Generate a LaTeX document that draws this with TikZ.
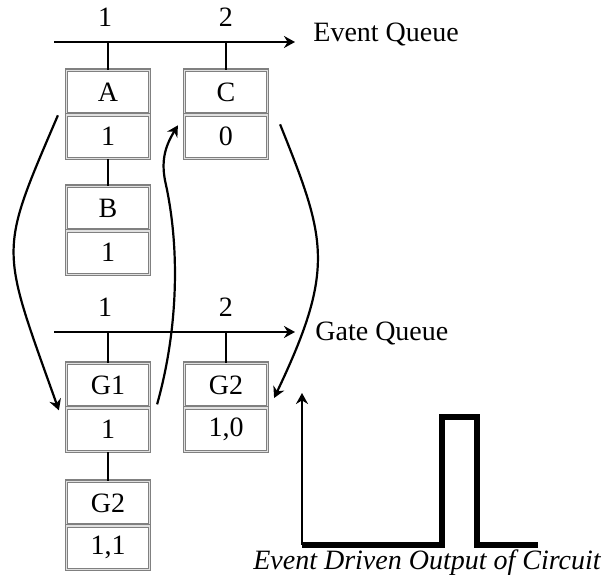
\documentclass[tikz,border=0pt]{standalone}
\usepackage{fontspec}
\setmainfont{Liberation Serif}
\usetikzlibrary{arrows.meta, positioning}

\begin{document}
\begin{tikzpicture}[x=0.5pt, y=-0.5pt, >={Stealth[length=5.5pt, width=6pt, inset=1.8pt]},
    font=\fontsize{14pt}{16pt}\selectfont,
    cell/.style={rectangle, draw=black!50, double=black!12, double distance=0.6pt,
        line width=0.6pt, minimum width=41.5pt, minimum height=21.75pt, inner sep=0pt},
    queue/.style={line width=1.3pt},
    hop/.style={->, line width=1.1pt},
    signal/.style={line width=2.7pt, line join=miter}]

    \useasboundingbox (0,0) rectangle (612,587);

    % Event queue
    \coordinate (eqs) at (54,42);
    \coordinate (eqe) at (295,42);
    \coordinate (e1) at (108,42);
    \coordinate (e2) at (226,42);
    \node (evq) [anchor=base west, inner sep=0pt] at (313,42) {Event Queue};
    \node (el1) [anchor=base] at (105,27) {1};
    \node (el2) [anchor=base] at (226,27) {2};

    \node (A) [cell] at (108,92) {A};
    \node (A1) [cell, below=0pt of A] {1};
    \node (B) [cell] at (108,208) {B};
    \node (B1) [cell, below=0pt of B] {1};
    \node (C) [cell] at (226,92) {C};
    \node (C1) [cell, below=0pt of C] {0};

    % Gate queue
    \coordinate (gqs) at (54,332);
    \coordinate (gqe) at (295,332);
    \coordinate (g1) at (108,332);
    \coordinate (g2) at (226,332);
    \node (gaq) [anchor=base west, inner sep=0pt] at (315,341) {Gate Queue};
    \node (gl1) [anchor=base] at (105,317) {1};
    \node (gl2) [anchor=base] at (226,317) {2};

    \node (G) [cell] at (108,385) {G1};
    \node (G1) [cell, below=0pt of G] {1};
    \node (H) [cell] at (108,503) {G2};
    \node (H1) [cell, below=0pt of H] {1,1};
    \node (K) [cell] at (226,385) {G2};
    \node (K1) [cell, below=0pt of K] {1,0};

    % Queues and links
    \draw[queue, ->] (eqs) -- (eqe);
    \draw[queue] (e1) -- (A.north);
    \draw[queue] (e2) -- (C.north);
    \draw[queue] (A1.south) -- (B.north);
    \draw[queue, ->] (gqs) -- (gqe);
    \draw[queue] (g1) -- (G.north);
    \draw[queue] (g2) -- (K.north);
    \draw[queue] (G1.south) -- (H.north);

    % Hops between the queues
    \draw[hop] ([shift={(-8,1)}]A1.north west) .. controls (-2,255) and (0,245) .. ([shift={(-7,3)}]G1.north west);
    \draw[hop] ([shift={(7,-3)}]G1.north east) .. controls (178,330) and (180,250) .. (166,185)
        .. controls (160,160) and (166,145) .. ([shift={(-6,11)}]C1.north west);
    \draw[hop] ([shift={(12,10)}]C1.north east) .. controls (326,239) and (336,268) .. ([shift={(6,13)}]K.east);

    % Output waveform
    \coordinate (o) at (302,545);
    \coordinate (top) at (302,393);
    \coordinate (up) at (442,545);
    \coordinate (down) at (477,545);
    \coordinate (end) at (538,545);
    \draw[->, line width=1.1pt] (o) -- (top);
    \draw[signal] (o) -- (up) -- (442,417) -- (477,417) -- (down) -- (end);
    \node (out) [anchor=base] at (427,570) {\itshape Event Driven Output of Circuit};
\end{tikzpicture}
\end{document}
